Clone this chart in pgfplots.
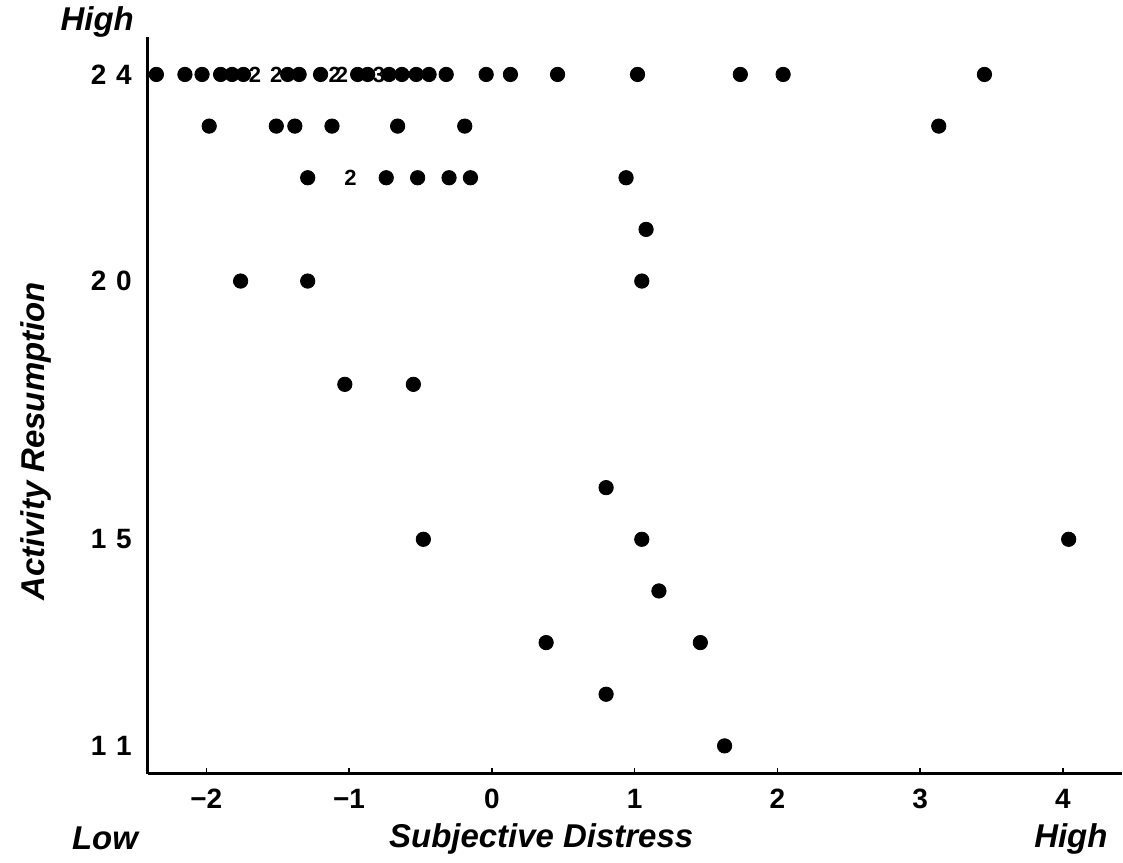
\documentclass[border=0pt]{standalone}
\usepackage{fontspec}
\setmainfont{Liberation Sans}
\usepackage{pgfplots}
\pgfplotsset{compat=1.18}

\begin{document}
\begin{tikzpicture}
\begin{axis}[
  width=487.5pt, height=369pt, scale only axis,
  xmin=-2.41, xmax=4.41, ymin=10.46, ymax=24.73,
  axis x line=bottom, axis y line=left,
  axis line style={-, line width=1.5pt},
  xtick={-2,-1,0,1,2,3,4}, xticklabels={−2,−1,0,1,2,3,4},
  ytick={11,15,20,24},
  yticklabels={1\hspace{0.35em}1,1\hspace{0.35em}5,2\hspace{0.35em}0,2\hspace{0.35em}4},
  tick label style={font=\bfseries\fontsize{14}{16}\selectfont},
  ytick style={draw=none},
  xtick style={line width=0.8pt, black},
  xtick align=inside, major tick length=3pt,
  xticklabel style={yshift=-4pt}, yticklabel style={xshift=-3pt},
  clip=false,
]
% single cases
\addplot[only marks, mark=*, mark size=3.6pt, black] coordinates {
 (-2.35,24) (-2.15,24) (-2.03,24) (-1.90,24) (-1.82,24) (-1.74,24)
 (-1.43,24) (-1.35,24) (-1.20,24) (-0.94,24) (-0.87,24) (-0.72,24)
 (-0.63,24) (-0.53,24) (-0.44,24) (-0.32,24) (-0.04,24) (0.13,24)
 (0.46,24) (1.02,24) (1.74,24) (2.04,24) (3.45,24)
 (-1.98,23) (-1.51,23) (-1.38,23) (-1.12,23) (-0.66,23) (-0.19,23) (3.13,23)
 (-1.29,22) (-0.74,22) (-0.52,22) (-0.30,22) (-0.15,22) (0.94,22)
 (1.08,21)
 (-1.76,20) (-1.29,20) (1.05,20)
 (-1.03,18) (-0.55,18)
 (0.80,16)
 (-0.48,15) (1.05,15) (4.04,15)
 (1.17,14)
 (0.38,13) (1.46,13)
 (0.80,12)
 (1.63,11)
};
% two coinciding cases
\addplot[only marks, mark=text, text mark as node=true,
  text mark={2}, text mark style={font=\bfseries\fontsize{11}{11}\selectfont, inner sep=0pt}] coordinates {
 (-1.66,24) (-1.51,24) (-1.10,24) (-1.05,24) (-0.99,22)
};
% three coinciding cases
\addplot[only marks, mark=text, text mark as node=true,
  text mark={3}, text mark style={font=\bfseries\fontsize{11}{11}\selectfont, inner sep=0pt}] coordinates {
 (-0.79,24)
};
\node[font=\bfseries\itshape\fontsize{16.5}{18}\selectfont] at (rel axis cs:-0.052,1.02) {High};
\node[font=\bfseries\itshape\fontsize{16.5}{18}\selectfont] at (rel axis cs:-0.044,-0.088) {Low};
\node[font=\bfseries\itshape\fontsize{16.5}{18}\selectfont] at (rel axis cs:0.404,-0.088) {Subjective Distress};
\node[font=\bfseries\itshape\fontsize{16.5}{18}\selectfont] at (rel axis cs:0.948,-0.088) {High};
\node[font=\bfseries\itshape\fontsize{16.5}{18}\selectfont, rotate=90] at (rel axis cs:-0.115,0.451) {Activity Resumption};
\end{axis}
\path[use as bounding box] ([xshift=-74pt,yshift=-44.5pt]current axis.south west) rectangle ([yshift=17.5pt]current axis.north east);
\end{tikzpicture}
\end{document}
